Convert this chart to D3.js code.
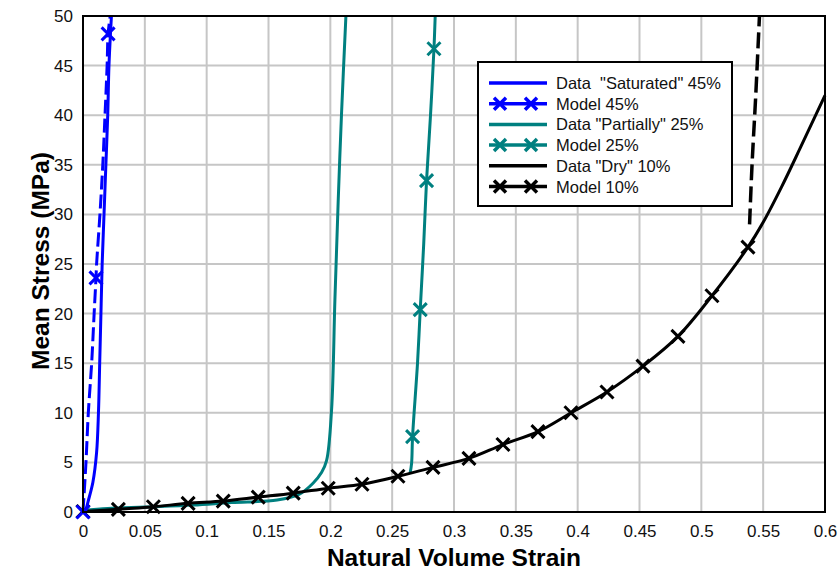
<!doctype html>
<html>
<head>
<meta charset="utf-8">
<title>Mean Stress vs Natural Volume Strain</title>
<script src="https://cdnjs.cloudflare.com/ajax/libs/d3/7.8.5/d3.min.js"></script>
<style>
  html, body { margin: 0; padding: 0; background: #fff; }
  svg { display: block; font-family: Arial, "Liberation Sans", sans-serif; }
</style>
</head>
<body>
<div id="chart"></div>
<script>
// ticks
const xTicks = [0, 0.05, 0.1, 0.15, 0.2, 0.25, 0.3, 0.35, 0.4, 0.45, 0.5, 0.55, 0.6];
const xTickLabels = ["0", "0.05", "0.1", "0.15", "0.2", "0.25", "0.3", "0.35", "0.4", "0.45", "0.5", "0.55", "0.6"];
const yTicks = [0, 5, 10, 15, 20, 25, 30, 35, 40, 45, 50];

// [strain, stress]
const satData = [[0.002,0],[0.004,1],[0.008,3],[0.011,6],[0.0125,10],[0.0135,15],[0.0145,20],
  [0.0155,25],[0.017,30],[0.0185,35],[0.020,40],[0.021,45],[0.023,50]];
const satModel = [[0,0],[0.0024,5],[0.0043,10],[0.007,15],[0.009,20],[0.0105,23.6],[0.011,25],
  [0.0137,30],[0.016,35],[0.0178,40],[0.0195,45],[0.0203,48.2],[0.022,50]];
const satMarks = [[0,0],[0.0105,23.6],[0.0203,48.2]];

const partData = [[0,0.15],[0.02,0.35],[0.05,0.5],[0.089,0.7],[0.12,0.95],[0.157,1.2],[0.175,1.8],
  [0.186,2.9],[0.193,4],[0.197,5.2],[0.201,10.3],[0.2037,21.4],[0.2064,31.5],[0.209,40],[0.2126,50]];
const partModel = [[0.2645,3.9],[0.2657,4.9],[0.2665,7.6],[0.2705,15],[0.2727,20.4],[0.2755,27],
  [0.2778,33.4],[0.281,40],[0.2838,46.7],[0.2848,50]];
const partMarks = [[0.2665,7.6],[0.2727,20.4],[0.2778,33.4],[0.2838,46.7]];

const dryData = [[0,0.05],[0.0286,0.27],[0.0569,0.53],[0.085,0.87],[0.1134,1.1],[0.1417,1.5],[0.170,1.9],
  [0.1983,2.4],[0.2256,2.8],[0.2547,3.6],[0.283,4.5],[0.3121,5.4],[0.3396,6.8],[0.3679,8.1],[0.3946,10],
  [0.4237,12.1],[0.4528,14.7],[0.4811,17.7],[0.5086,21.8],[0.5377,26.7],[0.55,29.2],[0.565,32.8],[0.58,36.7],[0.6,42]];
const dryMarks = [[0,0.05],[0.0286,0.27],[0.0569,0.53],[0.085,0.87],[0.1134,1.1],[0.1417,1.5],[0.170,1.9],
  [0.1983,2.4],[0.2256,2.8],[0.2547,3.6],[0.283,4.5],[0.3121,5.4],[0.3396,6.8],[0.3679,8.1],[0.3946,10],
  [0.4237,12.1],[0.4528,14.7],[0.4811,17.7],[0.5086,21.8],[0.5377,26.7]];
const dryVertical = [[0.539,29],[0.541,35],[0.544,42],[0.547,50]];

const legendLabels = ['Data  "Saturated" 45%', 'Model 45%', 'Data "Partially" 25%', 'Model 25%', 'Data "Dry" 10%', 'Model 10%'];
const legendColors = ['#0000ff', '#0000ff', '#008080', '#008080', '#000000', '#000000'];

const W = 838, H = 571;
const margin = {top: 16, right: 13, bottom: 59, left: 83};

const svg = d3.select('#chart').append('svg')
  .attr('width', W).attr('height', H);

const x = d3.scaleLinear().domain([0, 0.6]).range([margin.left, W - margin.right]);
const y = d3.scaleLinear().domain([0, 50]).range([H - margin.bottom, margin.top]);

// grid
svg.append('g').selectAll('line').data(xTicks.slice(1, -1)).join('line')
  .attr('x1', d => x(d)).attr('x2', d => x(d))
  .attr('y1', y(0)).attr('y2', y(50))
  .style('stroke', '#c6c6c6').style('stroke-width', 2);
svg.append('g').selectAll('line').data(yTicks.slice(1, -1)).join('line')
  .attr('x1', x(0)).attr('x2', x(0.6))
  .attr('y1', d => y(d)).attr('y2', d => y(d))
  .style('stroke', '#c6c6c6').style('stroke-width', 2);

// axes
const xAxis = svg.append('g').attr('transform', `translate(0,${y(0)})`)
  .call(d3.axisBottom(x).tickValues(xTicks).tickFormat((d, i) => xTickLabels[i]).tickSize(0).tickPadding(13));
const yAxis = svg.append('g').attr('transform', `translate(${x(0)},0)`)
  .call(d3.axisLeft(y).tickValues(yTicks).tickSize(0).tickPadding(10));
[xAxis, yAxis].forEach(a => {
  a.select('.domain').remove();
  a.selectAll('text').style('font-size', '17px').style('fill', '#111')
    .style('font-family', 'Arial, "Liberation Sans", sans-serif');
});

const line = d3.line().x(d => x(d[0])).y(d => y(d[1])).curve(d3.curveCatmullRom.alpha(0.5));

function xMark(g, pts, color) {
  g.selectAll(null).data(pts).join('path')
    .attr('transform', d => `translate(${x(d[0])},${y(d[1])})`)
    .attr('d', 'M-6.5,-6.5L6.5,6.5M-6.5,6.5L6.5,-6.5')
    .style('stroke', color).style('stroke-width', 3).style('fill', 'none');
}

const plot = svg.append('g');

// partially saturated
plot.append('path').datum(partData).attr('d', line)
  .style('fill', 'none').style('stroke', '#008080').style('stroke-width', 3);
plot.append('path').datum(partModel).attr('d', line)
  .style('fill', 'none').style('stroke', '#008080').style('stroke-width', 3);
xMark(plot.append('g'), partMarks, '#008080');

// dry
plot.append('path').datum(dryData).attr('d', line)
  .style('fill', 'none').style('stroke', '#000').style('stroke-width', 3);
plot.append('path').datum(dryVertical).attr('d', line)
  .style('fill', 'none').style('stroke', '#000').style('stroke-width', 3.5)
  .style('stroke-dasharray', '16,6');
xMark(plot.append('g'), dryMarks, '#000');

// saturated
plot.append('path').datum(satData).attr('d', line)
  .style('fill', 'none').style('stroke', '#0000ff').style('stroke-width', 3);
plot.append('path').datum(satModel).attr('d', line)
  .style('fill', 'none').style('stroke', '#0000ff').style('stroke-width', 3)
  .style('stroke-dasharray', '14,5');
xMark(plot.append('g'), satMarks, '#0000ff');

// frame
svg.append('rect')
  .attr('x', x(0)).attr('y', y(50))
  .attr('width', x(0.6) - x(0)).attr('height', y(0) - y(50))
  .style('fill', 'none').style('stroke', '#000').style('stroke-width', 2);

// axis titles
svg.append('text').attr('x', 454).attr('y', 566)
  .attr('text-anchor', 'middle')
  .style('font-size', '24.5px').style('font-weight', 'bold').style('fill', '#000')
  .text('Natural Volume Strain');
svg.append('text')
  .attr('transform', `translate(49,261) rotate(-90)`)
  .attr('text-anchor', 'middle')
  .style('font-size', '24.5px').style('font-weight', 'bold').style('fill', '#000')
  .text('Mean Stress (MPa)');

// legend
const lg = svg.append('g').attr('transform', 'translate(478,62)');
lg.append('rect').attr('width', 254).attr('height', 144)
  .style('fill', '#fff').style('stroke', '#000').style('stroke-width', 2);
const rows = lg.selectAll('g').data(legendLabels).join('g')
  .attr('transform', (d, i) => `translate(0,${21 + i * 20.7})`);
rows.append('line').attr('x1', 11).attr('x2', 69)
  .style('stroke', (d, i) => legendColors[i]).style('stroke-width', 3.5);
rows.filter((d, i) => i % 2 === 1).each(function(d) {
  const i = legendLabels.indexOf(d);
  d3.select(this).selectAll('path').data([22, 53]).join('path')
    .attr('transform', v => `translate(${v},0)`)
    .attr('d', 'M-6,-6L6,6M-6,6L6,-6')
    .style('stroke', legendColors[i]).style('stroke-width', 3.5);
});
rows.append('text').attr('x', 78).attr('y', 6)
  .style('font-size', '16.5px').style('fill', '#111')
  .style('white-space', 'pre')
  .text(d => d);
</script>
</body>
</html>
